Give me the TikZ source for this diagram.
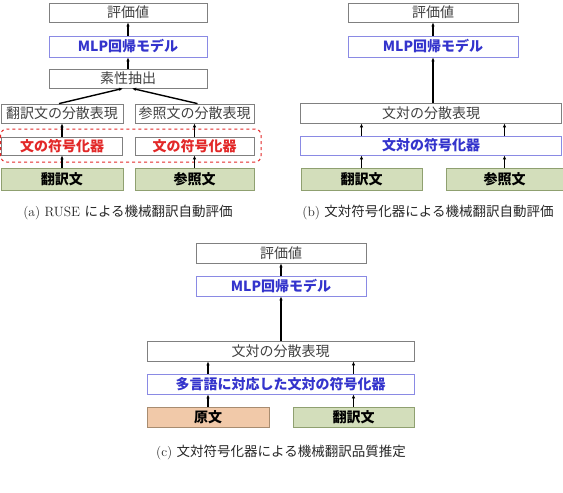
\documentclass[tikz,border=0pt]{standalone}
\usepackage{fontspec}
\newfontfamily\jp{Noto Sans CJK JP}
\usetikzlibrary{arrows.meta}
\definecolor{boxgray}{HTML}{808080}
\definecolor{txtgray}{HTML}{404040}
\definecolor{mlpblue}{HTML}{3434CC}
\definecolor{mlpedge}{HTML}{8A8AE4}
\definecolor{encred}{HTML}{E22828}
\definecolor{ingreen}{HTML}{D3DEBB}
\definecolor{ingreenedge}{HTML}{8FA070}
\definecolor{inorange}{HTML}{F1C9A9}
\definecolor{inorangeedge}{HTML}{A88C70}

\begin{document}
\begin{tikzpicture}[
    x=1pt, y=-1pt,
    every node/.style={font=\jp\fontsize{14}{16}\selectfont, inner sep=0pt},
    box/.style={draw=boxgray, line width=0.8pt, text=txtgray, minimum height=19pt},
    mlpbox/.style={draw=mlpedge, line width=0.8pt, text=mlpblue, font=\jp\bfseries\fontsize{14}{16}\selectfont, minimum height=20pt},
    encbox/.style={draw=boxgray, line width=0.8pt, text=encred, font=\jp\bfseries\fontsize{14}{16}\selectfont, minimum height=18pt},
    inbox/.style={draw=ingreenedge, fill=ingreen, line width=0.8pt, text=black, font=\jp\bfseries\fontsize{14}{16}\selectfont, minimum height=22pt},
    capnode/.style={font=\fontsize{13.5}{16}\selectfont, text=black!85},
    arr/.style={-{Latex[length=4pt,width=3.5pt]}, line width=1.4pt}
]
\useasboundingbox (0,0) rectangle (563,493);

% (a)
\node[box, minimum width=158pt] (evalA) at (128,12.5) {評価値};
\node[mlpbox, minimum width=158pt, minimum height=21pt] (mlpA) at (128,46.5) {MLP回帰モデル};
\node[box, minimum width=158pt] (featA) at (128,78.5) {素性抽出};
\node[box, minimum width=122pt] (reprHA) at (62,113.5) {翻訳文の分散表現};
\node[box, minimum width=119pt] (reprRA) at (194.5,113.5) {参照文の分散表現};
\node[encbox, minimum width=121pt] (encHA) at (62,146) {文の符号化器};
\node[encbox, minimum width=119pt] (encRA) at (194.5,146) {文の符号化器};
\node[inbox, minimum width=122pt] (hypA) at (62,179) {翻訳文};
\node[inbox, minimum width=119pt] (refA) at (194.5,179) {参照文};
\draw[encred, dashed, line width=1pt, rounded corners=6pt] (0.6,129) rectangle (261,162);

\draw[arr] (hypA) -- (encHA);
\draw[arr] (refA) -- (encRA);
\draw[arr] (encHA) -- (reprHA);
\draw[arr] (encRA) -- (reprRA);
\draw[arr] ([xshift=-3pt]reprHA.north) -- ([xshift=-5pt]featA.south);
\draw[arr] ([xshift=3pt]reprRA.north) -- ([xshift=4pt]featA.south);
\draw[arr] (featA) -- (mlpA);
\draw[arr] (mlpA) -- (evalA);

\node[capnode] (capA) at (128,213) {(a) RUSE {\jp による機械翻訳自動評価}};

% (b)
\node[box, minimum width=170pt] (evalB) at (433,12.5) {評価値};
\node[mlpbox, minimum width=170pt, minimum height=21pt] (mlpB) at (433,46.5) {MLP回帰モデル};
\node[box, minimum width=261pt, minimum height=20pt] (reprB) at (431,113) {文対の分散表現};
\node[mlpbox, minimum width=261pt, minimum height=19pt] (encB) at (431,145.5) {文対の符号化器};
\node[inbox, minimum width=121pt] (hypB) at (361.5,179) {翻訳文};
\node[inbox, minimum width=117pt] (refB) at (504.5,179) {参照文};

\draw[arr] (hypB.north) -- (hypB.north |- encB.south);
\draw[arr] (refB.north) -- (refB.north |- encB.south);
\draw[arr] (hypB.north |- encB.north) -- (hypB.north |- reprB.south);
\draw[arr] (refB.north |- encB.north) -- (refB.north |- reprB.south);
\draw[arr] (mlpB.south |- reprB.north) -- (mlpB.south);
\draw[arr] (mlpB) -- (evalB);

\node[capnode] (capB) at (428,213) {(b) {\jp 文対符号化器による機械翻訳自動評価}};

% (c)
\node[box, minimum width=170pt, minimum height=20pt] (evalC) at (281,253) {評価値};
\node[mlpbox, minimum width=170pt] (mlpC) at (281,286) {MLP回帰モデル};
\node[box, minimum width=267pt, minimum height=20pt] (reprC) at (280.5,351) {文対の分散表現};
\node[mlpbox, minimum width=267pt] (encC) at (280.5,384) {多言語に対応した文対の符号化器};
\node[inbox, draw=inorangeedge, fill=inorange, minimum width=122pt, minimum height=20pt] (srcC) at (208,417) {原文};
\node[inbox, minimum width=121pt, minimum height=20pt] (hypC) at (353.5,417) {翻訳文};

\draw[arr] (srcC.north) -- (srcC.north |- encC.south);
\draw[arr] (hypC.north) -- (hypC.north |- encC.south);
\draw[arr] (srcC.north |- encC.north) -- (srcC.north |- reprC.south);
\draw[arr] (hypC.north |- encC.north) -- (hypC.north |- reprC.south);
\draw[arr] (mlpC.south |- reprC.north) -- (mlpC.south);
\draw[arr] (mlpC) -- (evalC);

\node[capnode] (capC) at (281,452) {(c) {\jp 文対符号化器による機械翻訳品質推定}};
\end{tikzpicture}
\end{document}
